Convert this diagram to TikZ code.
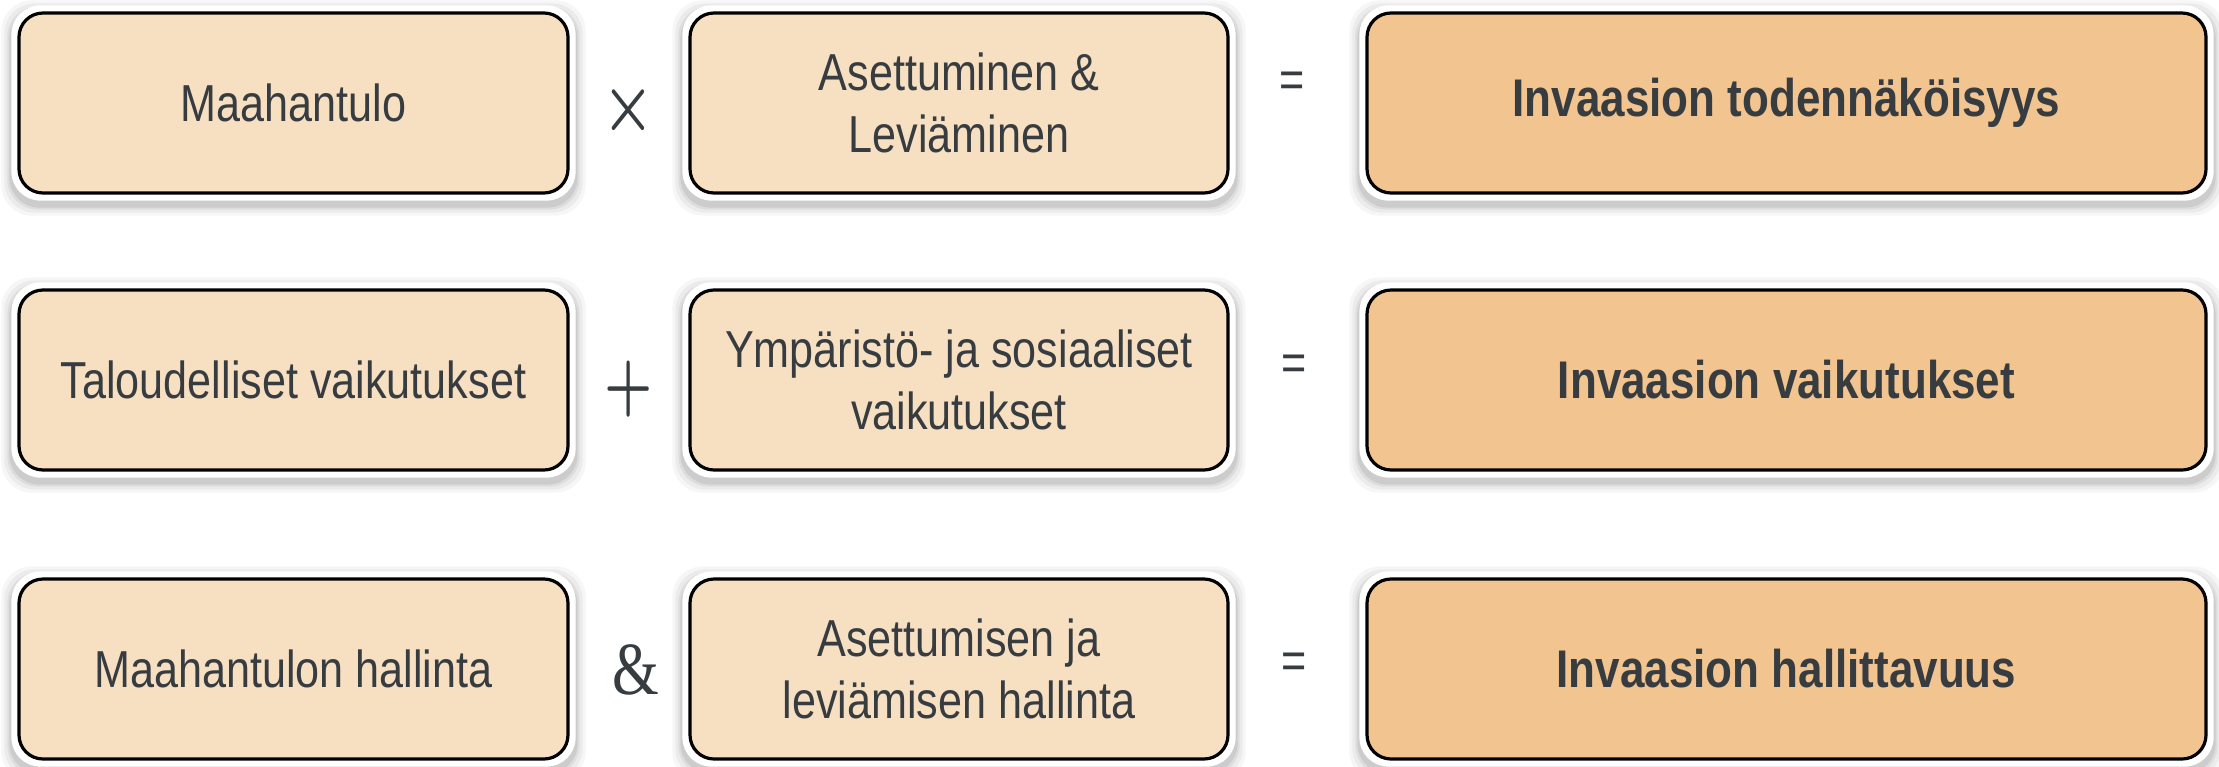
\documentclass[tikz,border=0pt]{standalone}
\usepackage{fontspec}
\setmainfont{Liberation Sans}[FakeStretch=0.83]
\newfontfamily\ampfont{Liberation Serif}[FakeStretch=0.8]
\usetikzlibrary{backgrounds}
\definecolor{txt}{RGB}{55,60,65}
\definecolor{peach}{RGB}{247,224,194}
\definecolor{peachL}{RGB}{251,236,215}
\definecolor{peachD}{RGB}{226,202,170}
\definecolor{orng}{RGB}{242,196,143}
\definecolor{orngL}{RGB}{247,214,174}
\definecolor{orngD}{RGB}{220,172,118}
\pgfdeclareverticalshading{peachshade}{100bp}{color(0bp)=(peachD); color(5bp)=(peach); color(93bp)=(peach); color(97bp)=(peachL); color(100bp)=(peach)}
\pgfdeclareverticalshading{orngshade}{100bp}{color(0bp)=(orngD); color(5bp)=(orng); color(93bp)=(orng); color(97bp)=(orngL); color(100bp)=(orng)}
\tikzset{
  card/.style={draw=black, line width=3.2pt, rounded corners=24pt, inner sep=0pt,
    text=txt, align=center, font=\fontsize{52}{62}\selectfont, minimum height=180pt},
  lightcard/.style={card, shading=peachshade, shade},
  darkcard/.style={card, shading=orngshade, shade, font=\fontsize{53}{62}\selectfont\bfseries},
  op/.style={text=txt, inner sep=0pt},
  boldop/.style={op, font=\boldmath},
  eqsign/.style={op, font=\fontsize{52}{60}\selectfont},
}
\begin{document}
\begin{tikzpicture}[x=1pt,y=-1pt]
\useasboundingbox (0,0) rectangle (2219,766);
% row 1
\node[lightcard, minimum width=549pt] (m1) at (293.5,103) {Maahantulo};
\node[lightcard, minimum width=538pt] (a1) at (959,103) {Asettuminen \&\\Leviäminen};
\node[darkcard, minimum width=839pt] (r1) at (1786.5,103) {Invaasion todennäköisyys};
% row 2
\node[lightcard, minimum width=549pt] (m2) at (293.5,380) {Taloudelliset vaikutukset};
\node[lightcard, minimum width=538pt] (a2) at (959,380) {Ympäristö- ja sosiaaliset\\vaikutukset};
\node[darkcard, minimum width=839pt] (r2) at (1786.5,380) {Invaasion vaikutukset};
% row 3
\node[lightcard, minimum width=549pt] (m3) at (293.5,669) {Maahantulon hallinta};
\node[lightcard, minimum width=538pt] (a3) at (959,669) {Asettumisen ja\\leviämisen hallinta};
\node[darkcard, minimum width=839pt] (r3) at (1786.5,669) {Invaasion hallittavuus};
% operators
\node[boldop] (x1) at (628,110) {\scalebox{5.8}[7.3]{$\times$}};
\node[boldop] (p2) at (629,389) {\scalebox{5.4}[7.35]{$+$}};
\node[op, font=\ampfont\fontsize{75}{80}\selectfont] (amp3) at (636,670) {\&};
\node[eqsign] (e1) at (1292,85) {=};
\node[eqsign] (e2) at (1294,368) {=};
\node[eqsign] (e3) at (1294,666) {=};
% shadows and white rims
\begin{scope}[on background layer]
\foreach \n in {m1,a1,r1,m2,a2,r2,m3,a3,r3}{
  \foreach \d/\o in {16/0.035,13/0.045,10/0.06,8/0.08}{
    \fill[black, opacity=\o, rounded corners=30pt]
      ([shift={(-\d,-\d+5)}]\n.north west) rectangle ([shift={(\d,\d+5)}]\n.south east);
  }
  \fill[white, rounded corners=29pt]
    ([shift={(-6,-6)}]\n.north west) rectangle ([shift={(6,6)}]\n.south east);
}
\end{scope}
\end{tikzpicture}
\end{document}
